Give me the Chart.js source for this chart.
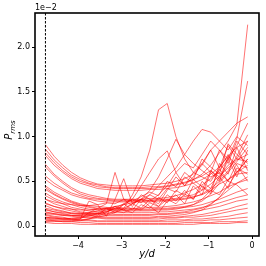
<!DOCTYPE html>
<html>
<head>
<meta charset="utf-8">
<script src="https://cdn.jsdelivr.net/npm/chart.js@4"></script>
<style>
  html, body { margin: 0; padding: 0; background: #fff; }
  canvas { display: block; }
</style>
</head>
<body>
<canvas id="prmsChart" width="266" height="266"></canvas>
<script>
// y/d positions shared by every profile
const yd = [-4.75, -4.55, -4.35, -4.15, -3.95, -3.75, -3.55, -3.35, -3.15, -2.95, -2.75, -2.55,
            -2.35, -2.15, -1.95, -1.75, -1.55, -1.35, -1.15, -0.95, -0.75, -0.55, -0.35, -0.1];

// P_rms profiles (units of 1e-2)
const smoothProfiles = [
  [0.91,0.78,0.68,0.60,0.54,0.50,0.47,0.46,0.45,0.45,0.45,0.45,0.46,0.47,0.48,0.50,0.53,0.58,0.68,0.85,0.95,1.05,1.15,1.22],
  [0.86,0.74,0.65,0.57,0.52,0.48,0.46,0.44,0.43,0.43,0.43,0.43,0.44,0.44,0.45,0.47,0.49,0.52,0.56,0.62,0.55,0.68,0.75,0.72],
  [0.82,0.71,0.62,0.55,0.50,0.47,0.44,0.43,0.42,0.42,0.42,0.42,0.42,0.43,0.44,0.46,0.48,0.52,0.58,0.68,0.82,0.95,1.13,2.25],
  [0.79,0.68,0.60,0.53,0.48,0.45,0.42,0.41,0.40,0.40,0.40,0.40,0.41,0.41,0.42,0.43,0.45,0.48,0.52,0.58,0.66,0.78,0.88,0.95],
  [0.69,0.58,0.50,0.43,0.38,0.35,0.33,0.31,0.30,0.30,0.30,0.30,0.31,0.31,0.32,0.34,0.37,0.41,0.46,0.53,0.62,0.75,0.98,1.62],
  [0.66,0.56,0.48,0.41,0.36,0.33,0.31,0.30,0.29,0.29,0.29,0.29,0.29,0.30,0.30,0.31,0.33,0.35,0.40,0.47,0.56,0.65,0.74,0.80],
  [0.56,0.48,0.42,0.37,0.34,0.31,0.30,0.29,0.28,0.28,0.28,0.28,0.28,0.29,0.29,0.30,0.31,0.33,0.35,0.40,0.47,0.52,0.58,0.60],
  [0.52,0.45,0.40,0.35,0.32,0.30,0.28,0.27,0.27,0.27,0.27,0.27,0.27,0.28,0.28,0.29,0.30,0.32,0.36,0.42,0.50,0.62,0.78,1.02],
  [0.45,0.38,0.33,0.28,0.25,0.23,0.22,0.21,0.20,0.20,0.20,0.20,0.21,0.21,0.22,0.23,0.25,0.27,0.30,0.34,0.38,0.44,0.48,0.52],
  [0.43,0.36,0.31,0.27,0.24,0.22,0.20,0.20,0.19,0.19,0.19,0.19,0.19,0.20,0.20,0.21,0.22,0.24,0.28,0.36,0.48,0.60,0.72,0.88],
  [0.41,0.35,0.30,0.26,0.23,0.21,0.19,0.19,0.18,0.18,0.18,0.18,0.18,0.19,0.19,0.20,0.21,0.22,0.24,0.27,0.30,0.34,0.38,0.42],
  [0.37,0.31,0.27,0.24,0.21,0.19,0.18,0.18,0.17,0.17,0.17,0.17,0.17,0.18,0.18,0.19,0.21,0.24,0.30,0.40,0.35,0.52,0.60,0.68],
  [0.34,0.29,0.25,0.21,0.19,0.17,0.16,0.16,0.15,0.15,0.15,0.15,0.15,0.16,0.16,0.17,0.18,0.19,0.21,0.23,0.26,0.29,0.32,0.35],
  [0.30,0.25,0.22,0.19,0.16,0.15,0.14,0.14,0.13,0.13,0.13,0.13,0.13,0.14,0.14,0.15,0.16,0.18,0.20,0.25,0.32,0.40,0.48,0.55],
  [0.26,0.22,0.19,0.17,0.15,0.14,0.13,0.12,0.12,0.12,0.12,0.12,0.12,0.13,0.13,0.14,0.15,0.16,0.18,0.20,0.22,0.25,0.28,0.30],
  [0.23,0.19,0.17,0.14,0.13,0.12,0.11,0.10,0.10,0.10,0.10,0.10,0.10,0.11,0.11,0.12,0.13,0.15,0.18,0.24,0.32,0.45,0.60,0.75],
  [0.19,0.16,0.14,0.12,0.11,0.10,0.10,0.09,0.09,0.09,0.09,0.09,0.09,0.10,0.10,0.10,0.11,0.12,0.13,0.15,0.17,0.19,0.22,0.25],
  [0.16,0.14,0.12,0.11,0.10,0.09,0.09,0.08,0.08,0.08,0.08,0.08,0.08,0.08,0.09,0.09,0.10,0.10,0.11,0.12,0.14,0.16,0.18,0.20],
  [0.13,0.11,0.10,0.08,0.07,0.07,0.06,0.06,0.06,0.06,0.06,0.06,0.06,0.06,0.07,0.07,0.07,0.08,0.08,0.09,0.10,0.11,0.13,0.15],
  [0.10,0.09,0.08,0.07,0.06,0.06,0.05,0.05,0.05,0.05,0.05,0.05,0.05,0.05,0.05,0.05,0.06,0.06,0.06,0.07,0.07,0.08,0.09,0.10],
  [0.07,0.06,0.05,0.05,0.04,0.04,0.03,0.03,0.03,0.03,0.03,0.03,0.03,0.03,0.03,0.03,0.04,0.04,0.04,0.04,0.05,0.05,0.05,0.06],
  [0.04,0.03,0.03,0.03,0.02,0.02,0.02,0.02,0.02,0.02,0.02,0.02,0.02,0.02,0.02,0.02,0.02,0.02,0.03,0.03,0.03,0.03,0.04,0.04]
];

const irregularProfiles = [
  [0.12,0.10,0.09,0.08,0.08,0.15,0.20,0.25,0.60,0.30,0.22,0.35,0.30,0.25,0.40,0.55,0.45,0.60,0.70,0.85,0.65,0.90,0.75,0.95],
  [0.05,0.05,0.06,0.06,0.07,0.08,0.10,0.12,0.15,0.20,0.35,0.55,0.85,1.30,1.37,1.00,0.75,0.60,0.55,0.50,0.65,0.80,0.60,0.75],
  [0.20,0.18,0.16,0.15,0.14,0.14,0.15,0.18,0.22,0.20,0.25,0.30,0.40,0.55,0.75,0.97,0.80,0.70,0.62,0.55,0.60,0.50,0.70,0.65],
  [0.15,0.14,0.13,0.12,0.12,0.13,0.14,0.16,0.20,0.25,0.30,0.45,0.60,0.75,0.84,0.60,0.45,0.55,0.70,0.60,0.85,0.70,0.95,0.80],
  [0.10,0.09,0.08,0.08,0.09,0.11,0.14,0.16,0.20,0.18,0.25,0.30,0.35,0.45,0.55,0.65,0.80,0.95,1.08,1.05,0.95,0.85,1.00,0.90],
  [0.08,0.07,0.07,0.07,0.08,0.28,0.24,0.11,0.30,0.53,0.25,0.20,0.30,0.22,0.35,0.28,0.40,0.30,0.45,0.38,0.55,0.42,0.65,0.58],
  [0.06,0.06,0.05,0.05,0.06,0.08,0.12,0.20,0.15,0.25,0.18,0.30,0.22,0.15,0.28,0.35,0.25,0.45,0.35,0.60,0.50,0.75,0.55,0.85],
  [0.25,0.22,0.20,0.19,0.18,0.18,0.19,0.20,0.22,0.24,0.26,0.30,0.28,0.35,0.45,0.60,0.70,0.65,0.80,0.95,0.85,0.75,0.90,1.15],
  [0.18,0.16,0.15,0.14,0.14,0.15,0.17,0.20,0.18,0.24,0.30,0.26,0.35,0.30,0.42,0.38,0.55,0.48,0.40,0.62,0.52,0.78,0.68,0.50],
  [0.09,0.08,0.08,0.09,0.10,0.12,0.11,0.15,0.22,0.18,0.15,0.24,0.20,0.32,0.26,0.40,0.34,0.52,0.44,0.36,0.70,0.58,0.88,0.62],
  [0.30,0.27,0.25,0.24,0.23,0.23,0.24,0.26,0.25,0.30,0.28,0.33,0.38,0.34,0.50,0.44,0.60,0.52,0.75,0.66,0.58,0.92,0.80,0.70],
  [0.14,0.13,0.12,0.12,0.12,0.13,0.14,0.13,0.17,0.15,0.20,0.18,0.26,0.22,0.30,0.25,0.36,0.30,0.50,0.42,0.64,0.50,0.46,0.35]
];

const xTicks = [-4, -3, -2, -1, 0];
const yTicks = [0, 0.5, 1.0, 1.5, 2.0];
const xRange = [-4.99, 0.16];
const yRange = [-0.11, 2.38];
const inletPos = -4.75; // dashed marker

const lineColor = 'rgba(255, 0, 0, 0.62)';
const tickFont = { family: 'DejaVu Sans', size: 8 };

const allProfiles = smoothProfiles.concat(irregularProfiles);
const datasets = allProfiles.map(p => ({
  data: yd.map((x, i) => ({ x: x, y: p[i] })),
  borderColor: lineColor,
  borderWidth: 0.9,
  pointRadius: 0,
  fill: false,
  tension: 0
}));

const minus = v => String(v).replace('-', '\u2212');

const decorations = {
  id: 'decorations',
  afterDatasetsDraw(chart) {
    const ctx = chart.ctx;
    const a = chart.chartArea;
    const xs = chart.scales.x;
    ctx.save();
    // dashed reference line
    const dx = xs.getPixelForValue(inletPos);
    ctx.strokeStyle = '#000';
    ctx.lineWidth = 1;
    ctx.setLineDash([2.5, 1.5]);
    ctx.beginPath();
    ctx.moveTo(dx, a.top);
    ctx.lineTo(dx, a.bottom);
    ctx.stroke();
    ctx.setLineDash([]);
    // frame
    ctx.lineWidth = 1.6;
    ctx.strokeRect(a.left, a.top, a.right - a.left, a.bottom - a.top);
    // offset text
    ctx.fillStyle = '#000';
    ctx.font = '8px "DejaVu Sans"';
    ctx.textAlign = 'left';
    ctx.textBaseline = 'alphabetic';
    ctx.fillText('1e\u22122', a.left, a.top - 3);
    // x title
    ctx.font = 'italic 10px "DejaVu Sans"';
    ctx.textAlign = 'center';
    ctx.textBaseline = 'middle';
    ctx.fillText('y/d', (a.left + a.right) / 2, 254);
    // y title P_rms
    ctx.translate(9, 130);
    ctx.rotate(-Math.PI / 2);
    ctx.textAlign = 'left';
    ctx.textBaseline = 'alphabetic';
    ctx.font = 'italic 10px "DejaVu Sans"';
    const pw = ctx.measureText('P').width;
    ctx.font = 'italic 7px "DejaVu Sans"';
    const sw = ctx.measureText('rms').width;
    const start = -(pw + sw) / 2;
    ctx.font = 'italic 10px "DejaVu Sans"';
    ctx.fillText('P', start, 3);
    ctx.font = 'italic 7px "DejaVu Sans"';
    ctx.fillText('rms', start + pw, 5.5);
    ctx.restore();
  }
};

new Chart(document.getElementById('prmsChart'), {
  type: 'line',
  data: { datasets: datasets },
  options: {
    responsive: false,
    animation: false,
    devicePixelRatio: 1,
    layout: { padding: { left: 0, right: 7, top: 13, bottom: 0 } },
    plugins: { legend: { display: false }, tooltip: { enabled: false } },
    scales: {
      x: {
        type: 'linear',
        min: xRange[0],
        max: xRange[1],
        border: { display: false },
        grid: { drawOnChartArea: false, tickLength: 3, color: '#000', tickWidth: 1 },
        ticks: { font: tickFont, color: '#000', padding: 2, maxRotation: 0,
                 callback: v => minus(v) },
        afterBuildTicks: s => { s.ticks = xTicks.map(v => ({ value: v })); },
        afterFit: s => { s.height = 30; }
      },
      y: {
        type: 'linear',
        min: yRange[0],
        max: yRange[1],
        border: { display: false },
        grid: { drawOnChartArea: false, tickLength: 3, color: '#000', tickWidth: 1 },
        ticks: { font: tickFont, color: '#000', padding: 2,
                 callback: v => v.toFixed(1) },
        afterBuildTicks: s => { s.ticks = yTicks.map(v => ({ value: v })); },
        afterFit: s => { s.width = 35; }
      }
    }
  },
  plugins: [decorations]
});
</script>
</body>
</html>
